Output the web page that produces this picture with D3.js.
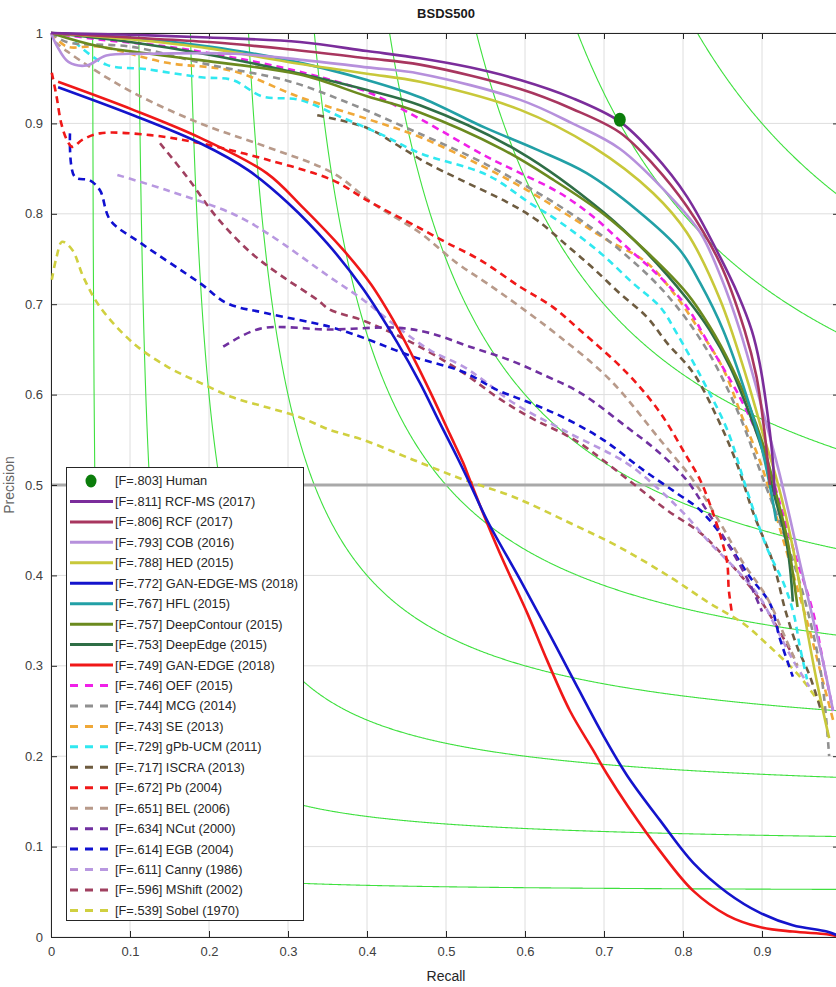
<!DOCTYPE html>
<html>
<head>
<meta charset="utf-8">
<script src="https://cdn.jsdelivr.net/npm/d3@7"></script>
<style>
  body { margin: 0; background: #fff; }
  text { font-family: "Liberation Sans", Arial, sans-serif; }
</style>
</head>
<body>
<div class="vis-pr"></div>
<script>
// recall / precision pairs
const human = [[0.72, 0.904]];
const rcfMs = [[0,1],[0.1,0.998],[0.2,0.995],[0.315,0.99],[0.4,0.98],[0.467,0.972],[0.53,0.962],[0.594,0.948],[0.66,0.928],[0.72,0.902],[0.762,0.867],[0.805,0.819],[0.847,0.752],[0.87,0.71],[0.887,0.671],[0.897,0.635],[0.908,0.572],[0.914,0.524],[0.916,0.489]];
const rcf = [[0,1],[0.1,0.995],[0.2,0.99],[0.3,0.982],[0.4,0.972],[0.467,0.965],[0.594,0.938],[0.66,0.916],[0.72,0.89],[0.762,0.855],[0.805,0.808],[0.847,0.745],[0.878,0.671],[0.893,0.62],[0.903,0.56],[0.91,0.5]];
const cob = [[0,1],[0.008,0.985],[0.022,0.968],[0.045,0.964],[0.07,0.975],[0.12,0.977],[0.233,0.977],[0.32,0.97],[0.4,0.962],[0.467,0.955],[0.594,0.926],[0.66,0.9],[0.72,0.872],[0.784,0.819],[0.822,0.779],[0.848,0.73],[0.872,0.671],[0.9,0.585],[0.92,0.52],[0.935,0.465],[0.948,0.414],[0.965,0.35],[0.977,0.306],[0.99,0.25]];
const hed = [[0,1],[0.1,0.993],[0.2,0.983],[0.3,0.968],[0.4,0.955],[0.467,0.946],[0.594,0.915],[0.686,0.874],[0.762,0.823],[0.805,0.779],[0.847,0.705],[0.88,0.62],[0.9,0.56],[0.919,0.505],[0.939,0.431],[0.957,0.34],[0.97,0.28],[0.985,0.22]];
const ganEdgeMs = [[0.009,0.94],[0.104,0.909],[0.189,0.878],[0.25,0.848],[0.3,0.812],[0.35,0.767],[0.395,0.717],[0.438,0.658],[0.467,0.613],[0.492,0.569],[0.514,0.531],[0.53,0.502],[0.552,0.461],[0.594,0.395],[0.628,0.34],[0.657,0.292],[0.699,0.223],[0.729,0.179],[0.771,0.129],[0.813,0.082],[0.856,0.049],[0.897,0.027],[0.939,0.013],[0.982,0.006],[0.995,0.002]];
const hfl = [[0,1],[0.1,0.995],[0.2,0.985],[0.3,0.97],[0.4,0.948],[0.467,0.929],[0.55,0.895],[0.615,0.871],[0.678,0.845],[0.742,0.804],[0.796,0.76],[0.822,0.723],[0.851,0.671],[0.881,0.597],[0.9,0.54],[0.912,0.49],[0.918,0.46]];
const deepContour = [[0,1],[0.062,0.985],[0.189,0.97],[0.315,0.954],[0.4,0.93],[0.467,0.912],[0.572,0.871],[0.635,0.838],[0.699,0.8],[0.754,0.758],[0.805,0.712],[0.834,0.675],[0.862,0.63],[0.885,0.585],[0.903,0.54],[0.918,0.49],[0.932,0.44],[0.945,0.365]];
const deepEdge = [[0,1],[0.1,0.99],[0.2,0.976],[0.3,0.958],[0.4,0.937],[0.467,0.92],[0.594,0.868],[0.699,0.802],[0.754,0.757],[0.805,0.706],[0.834,0.671],[0.86,0.63],[0.881,0.586],[0.9,0.54],[0.914,0.494],[0.932,0.431],[0.939,0.371]];
const ganEdge = [[0.009,0.946],[0.104,0.915],[0.189,0.884],[0.273,0.845],[0.32,0.806],[0.37,0.76],[0.405,0.722],[0.438,0.675],[0.458,0.642],[0.48,0.603],[0.505,0.556],[0.522,0.524],[0.53,0.506],[0.552,0.458],[0.572,0.417],[0.603,0.358],[0.628,0.306],[0.657,0.25],[0.686,0.207],[0.704,0.18],[0.73,0.145],[0.771,0.095],[0.813,0.051],[0.856,0.024],[0.897,0.011],[0.939,0.006],[0.982,0.003],[0.995,0.001]];
const oef = [[0,1],[0.06,0.993],[0.147,0.985],[0.23,0.973],[0.315,0.957],[0.4,0.935],[0.467,0.905],[0.552,0.863],[0.594,0.845],[0.644,0.823],[0.686,0.797],[0.729,0.763],[0.771,0.73],[0.805,0.697],[0.83,0.66],[0.872,0.597],[0.897,0.55],[0.914,0.505],[0.939,0.431],[0.965,0.358],[0.977,0.306],[0.99,0.25]];
const mcg = [[0,1],[0.02,0.99],[0.1,0.985],[0.2,0.965],[0.3,0.947],[0.367,0.926],[0.45,0.895],[0.55,0.855],[0.65,0.805],[0.72,0.76],[0.78,0.71],[0.83,0.65],[0.87,0.58],[0.9,0.51],[0.93,0.44],[0.955,0.37],[0.975,0.29],[0.985,0.2]];
const se = [[0,1],[0.02,0.985],[0.06,0.985],[0.147,0.967],[0.23,0.958],[0.315,0.929],[0.4,0.905],[0.467,0.885],[0.543,0.854],[0.603,0.826],[0.657,0.797],[0.704,0.771],[0.754,0.746],[0.792,0.708],[0.818,0.675],[0.85,0.63],[0.875,0.575],[0.9,0.52],[0.92,0.46],[0.94,0.4],[0.96,0.34],[0.975,0.29],[0.99,0.24]];
const gpbUcm = [[0.03,0.99],[0.07,0.965],[0.12,0.96],[0.19,0.951],[0.23,0.948],[0.267,0.93],[0.315,0.926],[0.367,0.907],[0.42,0.887],[0.467,0.867],[0.552,0.843],[0.606,0.812],[0.644,0.791],[0.695,0.757],[0.737,0.723],[0.771,0.697],[0.792,0.668],[0.825,0.616],[0.856,0.561],[0.881,0.494],[0.906,0.431],[0.928,0.39],[0.94,0.358],[0.948,0.321],[0.957,0.285]];
const iscra = [[0.337,0.909],[0.4,0.895],[0.442,0.874],[0.476,0.856],[0.52,0.837],[0.577,0.813],[0.615,0.793],[0.653,0.765],[0.686,0.74],[0.72,0.712],[0.754,0.686],[0.78,0.657],[0.813,0.624],[0.843,0.575],[0.868,0.524],[0.889,0.469],[0.914,0.414],[0.93,0.36],[0.945,0.32],[0.96,0.29],[0.975,0.25]];
const pb = [[0.001,0.956],[0.007,0.93],[0.013,0.9],[0.02,0.882],[0.027,0.874],[0.04,0.882],[0.062,0.889],[0.126,0.887],[0.189,0.878],[0.273,0.86],[0.357,0.837],[0.4,0.815],[0.467,0.784],[0.501,0.768],[0.543,0.749],[0.594,0.719],[0.635,0.697],[0.67,0.671],[0.729,0.624],[0.771,0.58],[0.805,0.531],[0.822,0.505],[0.838,0.469],[0.85,0.436],[0.856,0.414],[0.858,0.384],[0.862,0.358]];
const bel = [[0.005,0.99],[0.02,0.98],[0.05,0.962],[0.104,0.934],[0.189,0.9],[0.273,0.874],[0.357,0.845],[0.41,0.81],[0.467,0.779],[0.513,0.746],[0.552,0.723],[0.594,0.697],[0.644,0.664],[0.708,0.616],[0.771,0.55],[0.813,0.505],[0.847,0.458],[0.876,0.414],[0.906,0.376],[0.93,0.33],[0.945,0.3]];
const ncut = [[0.218,0.653],[0.265,0.673],[0.353,0.672],[0.438,0.674],[0.48,0.668],[0.53,0.653],[0.581,0.638],[0.628,0.62],[0.67,0.602],[0.729,0.564],[0.771,0.535],[0.805,0.505],[0.83,0.472],[0.86,0.43],[0.885,0.39],[0.9,0.36]];
const egb = [[0.024,0.889],[0.03,0.841],[0.049,0.837],[0.062,0.826],[0.075,0.793],[0.113,0.768],[0.189,0.723],[0.223,0.701],[0.273,0.69],[0.353,0.675],[0.395,0.663],[0.458,0.642],[0.522,0.625],[0.565,0.605],[0.606,0.591],[0.648,0.575],[0.699,0.55],[0.749,0.517],[0.792,0.491],[0.822,0.472],[0.856,0.436],[0.885,0.398],[0.91,0.369],[0.923,0.329],[0.939,0.288]];
const canny = [[0.084,0.843],[0.147,0.826],[0.23,0.8],[0.273,0.779],[0.353,0.73],[0.395,0.705],[0.438,0.675],[0.48,0.649],[0.522,0.631],[0.547,0.616],[0.585,0.591],[0.65,0.56],[0.729,0.524],[0.771,0.494],[0.805,0.465],[0.834,0.436],[0.868,0.406],[0.897,0.376],[0.919,0.34],[0.94,0.305],[0.96,0.277]];
const mshift = [[0.138,0.878],[0.172,0.841],[0.21,0.796],[0.253,0.757],[0.294,0.73],[0.337,0.705],[0.353,0.694],[0.395,0.682],[0.458,0.657],[0.522,0.624],[0.565,0.597],[0.606,0.575],[0.648,0.557],[0.67,0.546],[0.742,0.498],[0.78,0.472],[0.822,0.447],[0.856,0.417],[0.9,0.37],[0.94,0.31]];
const sobel = [[0.001,0.727],[0.007,0.752],[0.014,0.769],[0.027,0.76],[0.041,0.73],[0.062,0.697],[0.104,0.657],[0.147,0.631],[0.189,0.613],[0.23,0.597],[0.273,0.586],[0.315,0.575],[0.353,0.561],[0.395,0.55],[0.458,0.528],[0.522,0.506],[0.585,0.487],[0.657,0.458],[0.72,0.431],[0.784,0.398],[0.834,0.369],[0.876,0.347],[0.91,0.321],[0.948,0.288],[0.98,0.25]];

const legendLabels = ["[F=.803] Human","[F=.811] RCF-MS (2017)","[F=.806] RCF (2017)","[F=.793] COB (2016)","[F=.788] HED (2015)","[F=.772] GAN-EDGE-MS (2018)","[F=.767] HFL (2015)","[F=.757] DeepContour (2015)","[F=.753] DeepEdge (2015)","[F=.749] GAN-EDGE (2018)","[F=.746] OEF (2015)","[F=.744] MCG (2014)","[F=.743] SE (2013)","[F=.729] gPb-UCM (2011)","[F=.717] ISCRA (2013)","[F=.672] Pb (2004)","[F=.651] BEL (2006)","[F=.634] NCut (2000)","[F=.614] EGB (2004)","[F=.611] Canny (1986)","[F=.596] MShift (2002)","[F=.539] Sobel (1970)"];
const isoF = [0.1, 0.2, 0.3, 0.4, 0.5, 0.6, 0.7, 0.8, 0.9];
const xTicks = [0, 0.1, 0.2, 0.3, 0.4, 0.5, 0.6, 0.7, 0.8, 0.9];
const xTickLabels = ["0","0.1","0.2","0.3","0.4","0.5","0.6","0.7","0.8","0.9"];
const yTicks = [0, 0.1, 0.2, 0.3, 0.4, 0.5, 0.6, 0.7, 0.8, 0.9, 1];
const yTickLabels = ["0","0.1","0.2","0.3","0.4","0.5","0.6","0.7","0.8","0.9","1"];

const series = [
  { data: rcfMs, color: "#7b2d9b", dash: false },
  { data: rcf, color: "#a8365f", dash: false },
  { data: cob, color: "#b690dc", dash: false },
  { data: hed, color: "#c8c83a", dash: false },
  { data: ganEdgeMs, color: "#1414cc", dash: false },
  { data: hfl, color: "#22a0a6", dash: false },
  { data: deepContour, color: "#6b8a1f", dash: false },
  { data: deepEdge, color: "#2f6e46", dash: false },
  { data: ganEdge, color: "#f01818", dash: false },
  { data: oef, color: "#f020e8", dash: true },
  { data: mcg, color: "#909090", dash: true },
  { data: se, color: "#f0a838", dash: true },
  { data: gpbUcm, color: "#30e8f0", dash: true },
  { data: iscra, color: "#6e5c40", dash: true },
  { data: pb, color: "#f01818", dash: true },
  { data: bel, color: "#b89a8a", dash: true },
  { data: ncut, color: "#7030a0", dash: true },
  { data: egb, color: "#1010d0", dash: true },
  { data: canny, color: "#b898e0", dash: true },
  { data: mshift, color: "#a04060", dash: true },
  { data: sobel, color: "#d0d040", dash: true }
];

const width = 836, height = 987;
const svg = d3.select(".vis-pr").append("svg")
  .attr("width", width)
  .attr("height", height);

const x = d3.scaleLinear().domain([0, 1]).range([51, 841]);
const y = d3.scaleLinear().domain([0, 1]).range([937, 33]);

const defs = svg.append("defs");
defs.append("clipPath").attr("id", "plotClip").append("rect")
  .attr("x", x(0)).attr("y", y(1)).attr("width", x(1) - x(0)).attr("height", y(0) - y(1));
defs.append("clipPath").attr("id", "lineClip").append("rect")
  .attr("x", x(0) - 3).attr("y", y(1) - 3).attr("width", x(1) - x(0) + 6).attr("height", y(0) - y(1) + 6);

// grid
const grid = svg.append("g");
grid.selectAll(".gx").data(xTicks).enter().append("line")
  .attr("x1", d => x(d)).attr("x2", d => x(d))
  .attr("y1", y(0)).attr("y2", y(1))
  .attr("stroke", "#dedede").attr("stroke-width", 1);
grid.selectAll(".gy").data(yTicks).enter().append("line")
  .attr("x1", x(0)).attr("x2", x(1))
  .attr("y1", d => y(d)).attr("y2", d => y(d))
  .attr("stroke", "#dedede").attr("stroke-width", 1);

// iso-F contours
const isoLine = d3.line().x(d => x(d[0])).y(d => y(d[1]));
svg.append("g").attr("clip-path", "url(#plotClip)")
  .selectAll("path").data(isoF).enter().append("path")
  .attr("fill", "none")
  .attr("stroke", "#3fe03f")
  .attr("stroke-width", 1.1)
  .attr("d", f => isoLine(d3.range(f / 2 + 0.0005, 1.0001, 0.001)
    .map(r => [r, f * r / (2 * r - f)])
    .filter(p => p[1] <= 1.2)));

// P = 0.5 reference
svg.append("line")
  .attr("x1", x(0)).attr("x2", x(1))
  .attr("y1", y(0.5)).attr("y2", y(0.5))
  .attr("stroke", "#a9a9a9").attr("stroke-width", 3);

// axes
const fmt = (ticks, labels) => d => labels[ticks.indexOf(d)];
const styleAxis = g => {
  g.select(".domain").attr("stroke", "#262626");
  g.selectAll(".tick line").attr("stroke", "#262626");
  g.selectAll(".tick text").attr("fill", "#404040").style("font-size", "13px");
};
svg.append("g").attr("transform", "translate(0," + y(0) + ")")
  .call(d3.axisBottom(x).tickValues(xTicks).tickFormat(fmt(xTicks, xTickLabels)).tickSize(-6).tickPadding(10).tickSizeOuter(0))
  .call(styleAxis);
svg.append("g").attr("transform", "translate(" + x(0) + ",0)")
  .call(d3.axisLeft(y).tickValues(yTicks).tickFormat(fmt(yTicks, yTickLabels)).tickSize(-6).tickPadding(8).tickSizeOuter(0))
  .call(styleAxis);
svg.append("g").attr("transform", "translate(0," + y(1) + ")")
  .call(d3.axisTop(x).tickValues(xTicks).tickFormat("").tickSize(-6).tickSizeOuter(0))
  .call(styleAxis);
svg.append("g").attr("transform", "translate(" + x(1) + ",0)")
  .call(d3.axisRight(y).tickValues(yTicks).tickFormat("").tickSize(-8).tickSizeOuter(0))
  .call(styleAxis);

// curves
const line = d3.line()
  .x(d => x(d[0]))
  .y(d => y(d[1]))
  .curve(d3.curveCatmullRom.alpha(0.5));

svg.append("g").attr("clip-path", "url(#lineClip)")
  .selectAll("path").data(series.slice().reverse()).enter().append("path")
  .attr("fill", "none")
  .attr("stroke", d => d.color)
  .attr("stroke-width", 2.6)
  .attr("stroke-dasharray", d => d.dash ? "7,5" : null)
  .attr("stroke-linejoin", "round")
  .attr("d", d => line(d.data));

svg.selectAll(".human").data(human).enter().append("ellipse")
  .attr("cx", d => x(d[0])).attr("cy", d => y(d[1]))
  .attr("rx", 6).attr("ry", 7)
  .attr("fill", "#0b7d0b");

// labels
svg.append("text").attr("x", 446).attr("y", 18)
  .attr("text-anchor", "middle").attr("font-weight", "bold")
  .style("font-size", "13px").attr("fill", "#1a1a1a").text("BSDS500");
svg.append("text").attr("x", 446).attr("y", 981)
  .attr("text-anchor", "middle").style("font-size", "14px")
  .attr("fill", "#262626").text("Recall");
svg.append("text").attr("transform", "translate(14," + y(0.5) + ") rotate(-90)")
  .attr("text-anchor", "middle").style("font-size", "14px")
  .attr("fill", "#666").text("Precision");

// legend
const legend = svg.append("g");
legend.append("rect")
  .attr("x", 66.5).attr("y", 467.5).attr("width", 237).attr("height", 453)
  .attr("fill", "#fff").attr("stroke", "#262626").attr("stroke-width", 1);
const rowY = i => 481 + i * 20.45;
legend.append("ellipse").attr("cx", 91).attr("cy", rowY(0))
  .attr("rx", 5.5).attr("ry", 6.5).attr("fill", "#0b7d0b");
legend.selectAll(".ll").data(series).enter().append("line")
  .attr("x1", 70).attr("x2", 113)
  .attr("y1", (d, i) => rowY(i + 1)).attr("y2", (d, i) => rowY(i + 1))
  .attr("stroke", d => d.color).attr("stroke-width", 3)
  .attr("stroke-dasharray", d => d.dash ? "8,7" : null);
legend.selectAll(".lt").data(legendLabels).enter().append("text")
  .attr("x", 115).attr("y", (d, i) => rowY(i))
  .attr("dy", "0.35em")
  .style("font-size", "12.8px").attr("fill", "#262626")
  .text(d => d);
</script>
</body>
</html>
